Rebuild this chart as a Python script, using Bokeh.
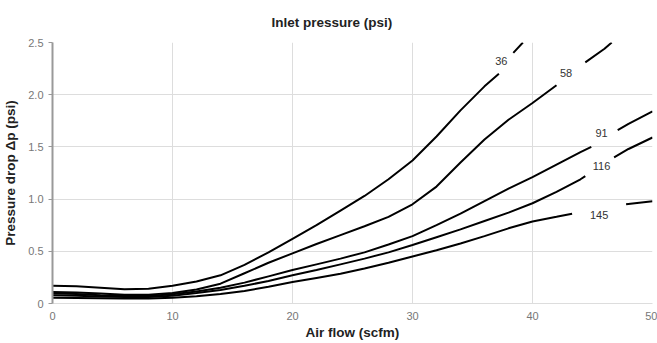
import math
from bokeh.plotting import figure
from bokeh.models import Range1d, FixedTicker, CustomJSTickFormatter, ColumnDataSource
from bokeh.core.properties import value
from bokeh.embed import file_html
from bokeh.resources import INLINE

# ---- data ----
series_names = ["36", "58", "91", "116", "145"]

x36 = [0, 2, 4, 6, 8, 10, 12, 14, 16, 18, 20, 22, 24, 26, 28, 30, 32, 34, 36, 37.2, 38.4, 39.2]
y36 = [0.17, 0.165, 0.152, 0.137, 0.142, 0.17, 0.21, 0.27, 0.37, 0.49, 0.62, 0.75, 0.89, 1.03, 1.19, 1.37, 1.60, 1.85, 2.08, 2.20, 2.40, 2.50]

x58 = [0, 2, 4, 6, 8, 10, 12, 14, 16, 18, 20, 22, 24, 26, 28, 30, 32, 34, 36, 38, 40, 42, 44.4, 46, 46.6]
y58 = [0.11, 0.105, 0.095, 0.085, 0.085, 0.10, 0.135, 0.19, 0.29, 0.39, 0.48, 0.57, 0.655, 0.74, 0.83, 0.95, 1.12, 1.35, 1.57, 1.76, 1.92, 2.09, 2.31, 2.44, 2.50]

x91 = [0, 2, 4, 6, 8, 10, 12, 14, 16, 18, 20, 22, 24, 26, 28, 30, 32, 34, 36, 38, 40, 42, 44, 44.9, 47.1, 48, 50]
y91 = [0.095, 0.09, 0.08, 0.072, 0.072, 0.088, 0.115, 0.15, 0.20, 0.26, 0.32, 0.375, 0.43, 0.49, 0.565, 0.645, 0.75, 0.86, 0.98, 1.10, 1.21, 1.33, 1.45, 1.50, 1.66, 1.72, 1.84]

x116 = [0, 2, 4, 6, 8, 10, 12, 14, 16, 18, 20, 22, 24, 26, 28, 30, 32, 34, 36, 38, 40, 42, 44, 44.4, 46.8, 48, 50]
y116 = [0.08, 0.075, 0.068, 0.062, 0.062, 0.075, 0.10, 0.13, 0.17, 0.215, 0.27, 0.32, 0.375, 0.43, 0.49, 0.56, 0.635, 0.71, 0.79, 0.87, 0.96, 1.07, 1.19, 1.22, 1.40, 1.48, 1.59]

x145 = [0, 2, 4, 6, 8, 10, 12, 14, 16, 18, 20, 22, 24, 26, 28, 30, 32, 34, 36, 38, 40, 42, 43.3, 47.8, 50]
y145 = [0.055, 0.053, 0.05, 0.047, 0.047, 0.055, 0.07, 0.09, 0.12, 0.16, 0.205, 0.245, 0.285, 0.335, 0.39, 0.45, 0.51, 0.575, 0.645, 0.72, 0.785, 0.83, 0.86, 0.95, 0.98]

# x value after which each curve is interrupted for its label
gap_after = [37.2, 42, 44.9, 44.4, 43.3]

label_x = [37.4, 42.8, 45.75, 45.75, 45.55]
label_y = [2.32, 2.21, 1.635, 1.32, 0.845]

x_ticks = [0, 10, 20, 30, 40, 50]
y_ticks = [0, 0.5, 1.0, 1.5, 2.0, 2.5]

all_x = [x36, x58, x91, x116, x145]
all_y = [y36, y58, y91, y116, y145]

FONT = "Liberation Sans"

p = figure(width=657, height=343, output_backend="svg", toolbar_location=None,
           x_range=Range1d(0, 50), y_range=Range1d(0, 2.5),
           title="Inlet pressure (psi)",
           min_border_left=52, min_border_right=5, min_border_top=42, min_border_bottom=40)
p.outline_line_color = None
p.background_fill_color = "white"
p.border_fill_color = "white"

p.title.text_font = FONT
p.title.text_font_size = "13.5px"
p.title.text_font_style = "bold"
p.title.text_color = "#222222"
p.title.align = "left"
p.title.offset = 219
p.title.standoff = 25

p.xaxis.ticker = FixedTicker(ticks=x_ticks)
p.yaxis.ticker = FixedTicker(ticks=y_ticks)
p.yaxis.formatter = CustomJSTickFormatter(code="return tick == 0 ? '0' : tick.toFixed(1);")
p.xaxis.formatter = CustomJSTickFormatter(code="return tick.toFixed(0);")

for ax in (p.xaxis[0], p.yaxis[0]):
    ax.major_label_text_font = FONT
    ax.major_label_text_font_size = "11px"
    ax.major_label_text_color = "#777777"
    ax.axis_label_text_font = FONT
    ax.axis_label_text_font_size = "13.5px"
    ax.axis_label_text_font_style = "bold"
    ax.axis_label_text_color = "#222222"
    ax.minor_tick_line_color = None

p.xaxis.axis_label = "Air flow (scfm)"
p.yaxis.axis_label = "Pressure drop \u0394p (psi)"

p.xaxis.axis_line_color = "#dddddd"
p.xaxis.major_tick_line_color = None
p.xaxis.major_tick_in = 0
p.xaxis.major_tick_out = 0
p.xaxis.major_label_standoff = 8
p.xaxis.axis_label_standoff = 2

p.yaxis.axis_line_color = "#999999"
p.yaxis.axis_line_width = 2
p.yaxis.major_tick_line_color = "#999999"
p.yaxis.major_tick_in = 0
p.yaxis.major_tick_out = 4
p.yaxis.major_label_standoff = 5
p.yaxis.axis_label_standoff = 7

p.xgrid.grid_line_color = "#dddddd"
p.ygrid.grid_line_color = "#dddddd"

for xs, ys, g in zip(all_x, all_y, gap_after):
    px, py = [], []
    for xv, yv in zip(xs, ys):
        px.append(xv)
        py.append(yv)
        if xv == g:
            px.append(math.nan)
            py.append(math.nan)
    p.line(px, py, line_color="black", line_width=2)

src = ColumnDataSource(dict(x=label_x, y=label_y, t=series_names))
p.text(x="x", y="y", text="t", source=src, text_align="center", text_baseline="middle",
       text_font=value(FONT), text_font_size="11px", text_color="#333333")

open("out.html", "w").write(file_html(p, INLINE))
